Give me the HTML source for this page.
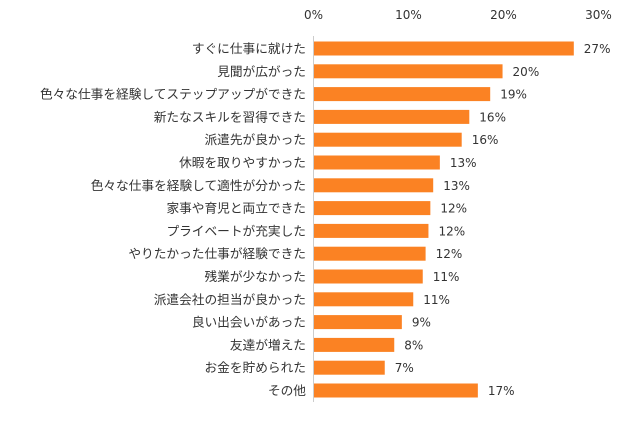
<!DOCTYPE html>
<html><head><meta charset="utf-8"><style>
body{margin:0;background:#fff;}
svg text{font-family:"Liberation Sans","Noto Sans CJK JP",sans-serif;font-size:12.7px;fill:#333;}
svg text.num{font-family:"DejaVu Sans",sans-serif;font-size:12px;}
</style></head><body>
<svg id="c" width="630" height="417"></svg>
<script>
const categories=["すぐに仕事に就けた","見聞が広がった","色々な仕事を経験してステップアップができた","新たなスキルを習得できた","派遣先が良かった","休暇を取りやすかった","色々な仕事を経験して適性が分かった","家事や育児と両立できた","プライベートが充実した","やりたかった仕事が経験できた","残業が少なかった","派遣会社の担当が良かった","良い出会いがあった","友達が増えた","お金を貯められた","その他"];
const values=[27.4,19.9,18.6,16.4,15.6,13.3,12.6,12.3,12.1,11.8,11.5,10.5,9.3,8.5,7.5,17.3];
const valueLabels=["27%","20%","19%","16%","16%","13%","13%","12%","12%","12%","11%","11%","9%","8%","7%","17%"];
const ticks=[0,10,20,30];
const ns="http://www.w3.org/2000/svg",svg=document.getElementById("c");
const x0=313.5,scale=9.5,y0=48.5,step=22.8,bh=14;
const xs=v=>x0+v*scale, ys=i=>y0+i*step;
function mk(t,a){const e=document.createElementNS(ns,t);for(const k in a)e.setAttribute(k,a[k]);svg.appendChild(e);return e;}
ticks.forEach(t=>{const e=mk("text",{x:xs(t),y:19,"text-anchor":"middle","class":"num"});e.textContent=t+"%";

});
const ax=mk("line",{x1:x0,x2:x0,y1:36,y2:402,stroke:"#ccc","stroke-width":1});


categories.forEach((c,i)=>{
const y=ys(i);
const l=mk("text",{x:306,y:y+4.5,"text-anchor":"end"});l.textContent=c;


const b=mk("rect",{x:x0+0.5,y:y-bh/2,width:xs(values[i])-x0-0.5,height:bh,fill:"#fb8223"});


const v=mk("text",{x:xs(values[i])+10,y:y+4.5,"class":"num"});v.textContent=valueLabels[i];


});
</script>
</body></html>
